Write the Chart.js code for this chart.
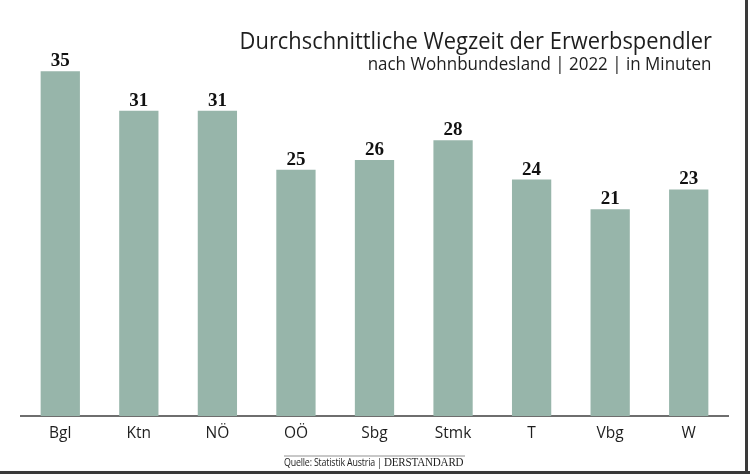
<!DOCTYPE html>
<html><head><meta charset="utf-8">
<script src="https://cdn.jsdelivr.net/npm/chart.js@4"></script>
<style>
html,body{margin:0;padding:0;background:#fff;}
#wrap{position:relative;width:750px;height:474px;overflow:hidden;}
#c{position:absolute;left:0;top:0;}
.t{position:absolute;white-space:nowrap;color:#1e1e1e;}
#title{right:38px;top:23px;font:400 24.5px "Open Sans",sans-serif;transform:scaleX(0.893);transform-origin:right center;}
#sub{right:39px;top:51px;font:400 17.5px "Open Sans",sans-serif;transform:scaleX(0.97);transform-origin:right center;}
#srcline{position:absolute;left:284px;top:455px;width:181px;height:2px;background:#c8c8c8;}
#src{left:284px;top:455px;font:10px "Open Sans",sans-serif;transform:scaleX(0.885);transform-origin:left center;letter-spacing:-0.2px;}
#src b{font:400 12.5px "Liberation Serif",serif;}
#br{position:absolute;left:745px;top:0;width:3px;height:474px;background:#3a3a3a;}
#bb{position:absolute;left:0;top:471px;width:750px;height:3px;background:#3a3a3a;}
</style></head>
<body><div id="wrap">
<canvas id="c" width="750" height="474"></canvas>
<div class="t" id="title">Durchschnittliche Wegzeit der Erwerbspendler</div>
<div class="t" id="sub">nach Wohnbundesland | 2022 | in Minuten</div>
<div id="srcline"></div>
<div class="t" id="src">Quelle: Statistik Austria | <b>DERSTANDARD</b></div>
<div id="br"></div><div id="bb"></div>
</div>
<script>
const categories = ["Bgl","Ktn","NÖ","OÖ","Sbg","Stmk","T","Vbg","W"];
const values = [35,31,31,25,26,28,24,21,23];
const yMax = 40;

const labelPlugin = {
  id:'barLabels',
  afterDatasetsDraw(chart){
    const ctx = chart.ctx;
    const meta = chart.getDatasetMeta(0);
    ctx.save();
    ctx.font = 'bold 19px "Liberation Serif", serif';
    ctx.fillStyle = '#111';
    ctx.textAlign = 'center';
    ctx.textBaseline = 'alphabetic';
    meta.data.forEach((bar,i)=>{
      ctx.fillText(String(values[i]), bar.x, bar.y - 5);
    });
    ctx.restore();
  }
};

new Chart(document.getElementById('c'), {
  type:'bar',
  data:{labels:categories, datasets:[{data:values, backgroundColor:'#97b5aa', borderWidth:0, barPercentage:0.5, categoryPercentage:1}]},
  options:{
    responsive:false, animation:false,
    layout:{padding:{left:21,right:22,top:22,bottom:0}},
    plugins:{legend:{display:false},tooltip:{enabled:false},title:{display:false}},
    scales:{
      x:{
        grid:{display:false, drawTicks:false},
        border:{display:true,color:'#6e6e6e',width:2},
        ticks:{color:'#1e1e1e',font:{family:'"Open Sans", sans-serif',size:15.5},padding:8},
        afterFit(s){s.height = 58;}
      },
      y:{display:false,min:0,max:yMax}
    }
  },
  plugins:[labelPlugin]
});
</script>
</body></html>
